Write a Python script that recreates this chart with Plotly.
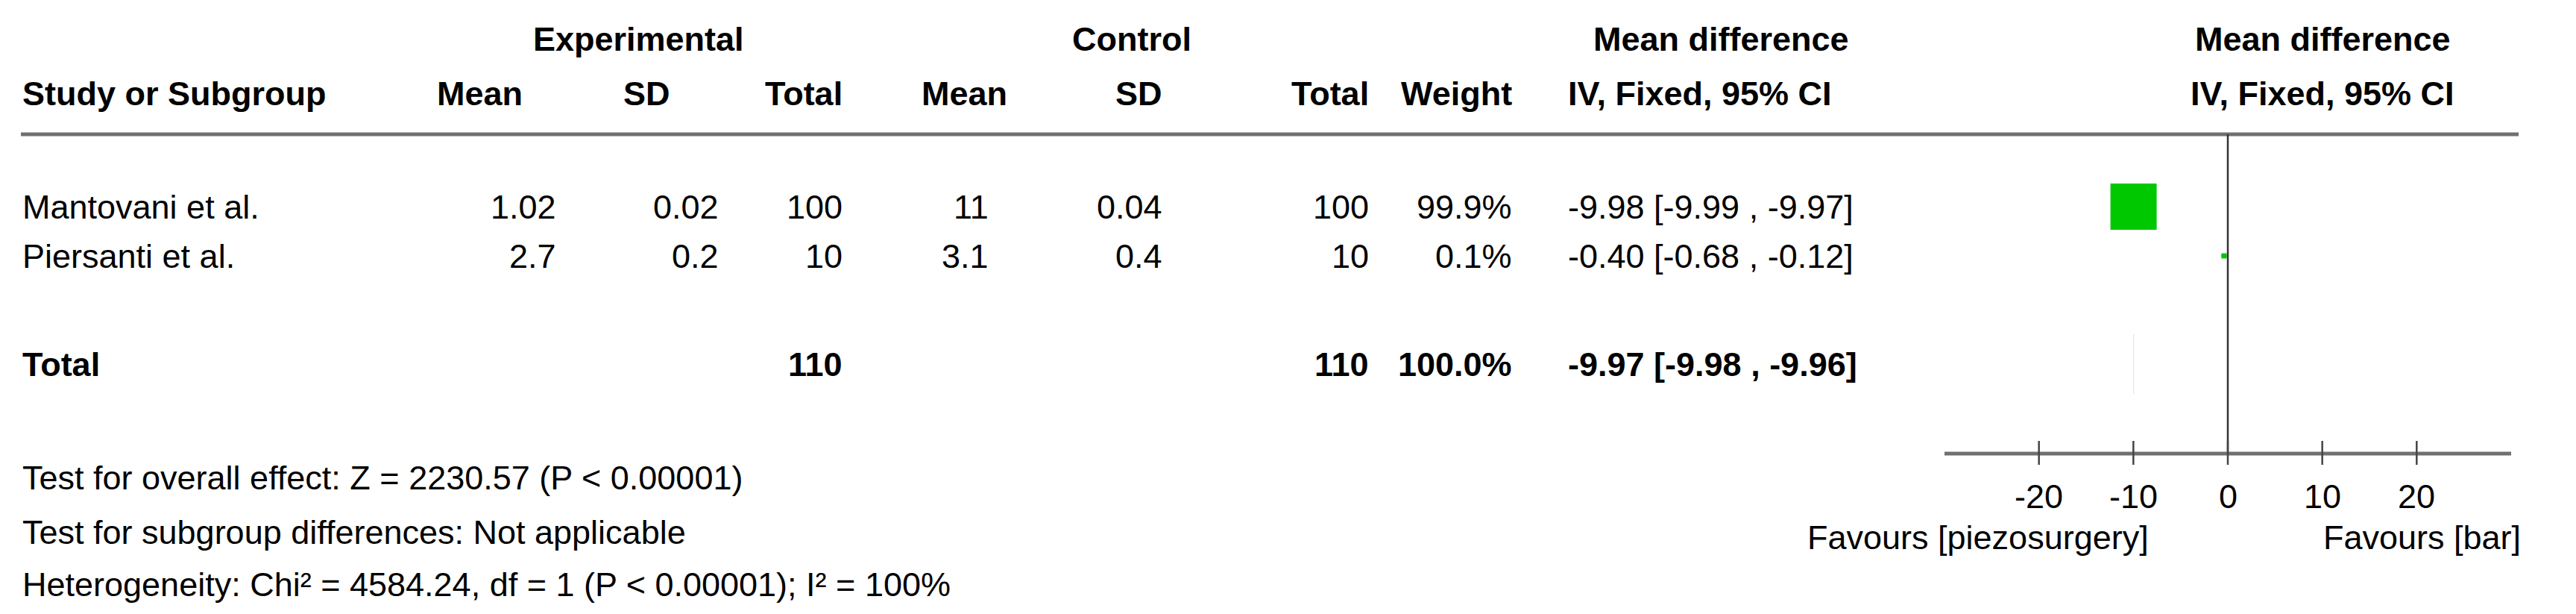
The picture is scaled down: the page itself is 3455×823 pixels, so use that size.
import plotly.graph_objects as go

studies = ["Mantovani et al.", "Piersanti et al."]
exp_mean = ["1.02", "2.7"]
exp_sd = ["0.02", "0.2"]
exp_n = [100, 10]
ctl_mean = ["11", "3.1"]
ctl_sd = ["0.04", "0.4"]
ctl_n = [100, 10]
weights = [99.9, 0.1]
md = [-9.98, -0.40]
ci_lo = [-9.99, -0.68]
ci_hi = [-9.97, -0.12]
tot_md, tot_lo, tot_hi = -9.97, -9.98, -9.96
tot_exp, tot_ctl, tot_w = 110, 110, "100.0%"
ticks = [-20, -10, 0, 10, 20]
footer = ["Test for overall effect: Z = 2230.57 (P < 0.00001)",
          "Test for subgroup differences: Not applicable",
          "Heterogeneity: Chi² = 4584.24, df = 1 (P < 0.00001); I² = 100%"]

W, H = 3455, 823
X0, X1 = 2600, 3360
FONT = "Liberation Sans, Arial"
FS = 45
fig = go.Figure()
ann = []

def t(x, y, s, anchor="left", bold=False, xref="paper"):
    xx = x / W if xref == "paper" else x
    ann.append(dict(x=xx, y=y, xref=xref, yref="y", text=f"<b>{s}</b>" if bold else s,
                    showarrow=False, xanchor=anchor, yanchor="middle",
                    font=dict(family=FONT, size=FS, color="black")))

t(848, 44, "Experimental", "center", True)
t(1510, 44, "Control", "center", True)
t(2300, 44, "Mean difference", "center", True)
t(3107, 44, "Mean difference", "center", True)
hy = 117
t(20, hy, "Study or Subgroup", "left", True)
for x, s in [(695, "Mean"), (893, "SD"), (1124, "Total"), (1345, "Mean"), (1553, "SD"), (1830, "Total"), (2022, "Weight")]:
    t(x, hy, s, "right", True)
t(2093, hy, "IV, Fixed, 95% CI", "left", True)
t(3107, hy, "IV, Fixed, 95% CI", "center", True)

rows_y = [269, 335]
for i, y in enumerate(rows_y):
    t(20, y, studies[i])
    t(740, y, exp_mean[i], "right")
    t(958, y, exp_sd[i], "right")
    t(1124, y, str(exp_n[i]), "right")
    t(1320, y, ctl_mean[i], "right")
    t(1553, y, ctl_sd[i], "right")
    t(1830, y, str(ctl_n[i]), "right")
    t(2022, y, f"{weights[i]}%", "right")
    t(2093, y, f"{md[i]:.2f} [{ci_lo[i]:.2f} , {ci_hi[i]:.2f}]", "left")
ty = 480
t(20, ty, "Total", bold=True)
t(1124, ty, str(tot_exp), "right", True)
t(1830, ty, str(tot_ctl), "right", True)
t(2022, ty, tot_w, "right", True)
t(2093, ty, f"{tot_md:.2f} [{tot_lo:.2f} , {tot_hi:.2f}]", "left", True)

for s, y in zip(footer, [632, 705, 775]):
    t(20, y, s)

for v in ticks:
    t(v, 657, str(v), "center", xref="x")
t(2645, 712, "Favours [piezosurgery]", "center")
t(3240, 712, "Favours [bar]", "center")

shapes = [
    dict(type="line", xref="paper", yref="y", x0=20 / W, x1=3370 / W, y0=172, y1=172,
         line=dict(color="#707070", width=5)),
    dict(type="line", xref="x", yref="y", x0=0, x1=0, y0=172, y1=600, line=dict(color="#333", width=2.5)),
    dict(type="line", xref="x", yref="y", x0=-30, x1=30, y0=600, y1=600, line=dict(color="#707070", width=5)),
]
for v in ticks:
    shapes.append(dict(type="line", xref="x", yref="y", x0=v, x1=v, y0=583, y1=615,
                       line=dict(color="#444", width=2.5)))
shapes.append(dict(type="path", xref="x", yref="y",
                   path=f"M {tot_lo},{ty} L {tot_md},{ty-40} L {tot_hi},{ty} L {tot_md},{ty+40} Z",
                   fillcolor="#e8e8e8", line=dict(color="#e8e8e8", width=1)))

sizes = [max(7, 62 * (w / max(weights)) ** 0.5) for w in weights]
fig.add_trace(go.Scatter(x=md, y=rows_y, mode="markers",
                         marker=dict(symbol="square", size=sizes, color="#00c800", opacity=1,
                                     line=dict(width=0)),
                         error_x=dict(type="data", symmetric=False,
                                      array=[h - m for h, m in zip(ci_hi, md)],
                                      arrayminus=[m - l for l, m in zip(ci_lo, md)],
                                      color="#333", thickness=2, width=0),
                         showlegend=False, hoverinfo="skip"))

fig.update_layout(width=W, height=H, margin=dict(l=0, r=0, t=0, b=0),
                  paper_bgcolor="white", plot_bgcolor="white",
                  xaxis=dict(domain=[X0 / W, X1 / W], range=[-30, 30], visible=False, fixedrange=True),
                  yaxis=dict(domain=[0, 1], range=[H, 0], visible=False, fixedrange=True),
                  annotations=ann, shapes=shapes)
fig.write_html("out.html")
